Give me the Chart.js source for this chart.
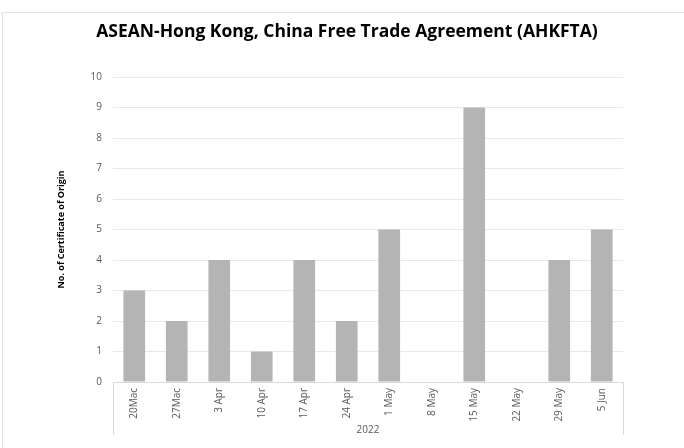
<!DOCTYPE html>
<html>
<head>
<meta charset="utf-8">
<script src="https://cdn.jsdelivr.net/npm/chart.js@4"></script>
<style>
  html, body { margin: 0; padding: 0; background: #ffffff; overflow: hidden; }
  #frame {
    position: absolute; left: 2px; top: 12px; width: 720px; height: 460px;
    border: 1px solid #dde1e8; box-sizing: border-box;
  }
  #wrap { position: absolute; left: 0; top: 0; width: 684px; height: 448px; }
</style>
</head>
<body>
<div id="frame"></div>
<div id="wrap"><canvas id="grafico"></canvas></div>
<script>
// Dados do gráfico
const semanas = ["20Mac", "27Mac", "3 Apr", "10 Apr", "17 Apr", "24 Apr", "1 May", "8 May", "15 May", "22 May", "29 May", "5 Jun"];
const certificados = [3, 2, 4, 1, 4, 2, 5, 0, 9, 0, 4, 5];
const anoLabel = "2022";
const tituloGrafico = "ASEAN-Hong Kong, China Free Trade Agreement (AHKFTA)";
const tituloEixoY = "No. of Certificate of Origin";

const corTexto = "#595959";
const corLinha = "#d9d9d9";

// Linhas verticais nas extremidades do eixo X (estilo Excel)
const bordasEixoX = {
    id: "bordasEixoX",
    afterDraw(chart) {
        const { ctx, chartArea } = chart;
        const xScale = chart.scales.x;
        ctx.save();
        ctx.strokeStyle = corLinha;
        ctx.lineWidth = 1;
        [chartArea.left, chartArea.right].forEach(x => {
            const px = Math.round(x) + 0.5;
            ctx.beginPath();
            ctx.moveTo(px, chartArea.bottom);
            ctx.lineTo(px, xScale.bottom - 5);
            ctx.stroke();
        });
        ctx.restore();
    }
};

const ctx = document.getElementById("grafico").getContext("2d");
new Chart(ctx, {
    type: "bar",
    data: {
        labels: semanas,
        datasets: [{
            data: certificados,
            backgroundColor: "#b4b4b4",
            barPercentage: 0.51,
            categoryPercentage: 1
        }]
    },
    options: {
        responsive: true,
        maintainAspectRatio: false,
        animation: false,
        layout: { padding: { left: 71, right: 61, top: 0, bottom: 8 } },
        plugins: {
            legend: { display: false },
            tooltip: { enabled: false },
            title: {
                display: true,
                text: tituloGrafico,
                color: "#000000",
                font: { family: "'Open Sans', sans-serif", size: 17.5, weight: "bold" },
                padding: { top: 22, bottom: 34 }
            }
        },
        scales: {
            x: {
                grid: { display: false, drawTicks: false },
                border: { display: true, color: corLinha },
                ticks: {
                    autoSkip: false,
                    minRotation: 90,
                    maxRotation: 90,
                    padding: 6,
                    color: corTexto,
                    font: { family: "'Open Sans', sans-serif", size: 10 }
                },
                title: {
                    display: true,
                    text: anoLabel,
                    color: corTexto,
                    font: { family: "'Open Sans', sans-serif", size: 10 },
                    padding: { top: 0, bottom: 4 }
                },
                afterFit(scale) { scale.height = 58; }
            },
            y: {
                min: 0,
                max: 10,
                grid: { color: "#e8e8e8", drawTicks: false },
                border: { display: false },
                ticks: {
                    stepSize: 1,
                    padding: 11,
                    color: corTexto,
                    font: { family: "'Open Sans', sans-serif", size: 10 }
                },
                title: {
                    display: true,
                    text: tituloEixoY,
                    color: "#000000",
                    font: { family: "'Open Sans', sans-serif", size: 9, weight: "bold" },
                    padding: { top: -15, bottom: 0 }
                },
                afterFit(scale) { scale.width = 42; }
            }
        }
    },
    plugins: [bordasEixoX]
});
</script>
</body>
</html>
